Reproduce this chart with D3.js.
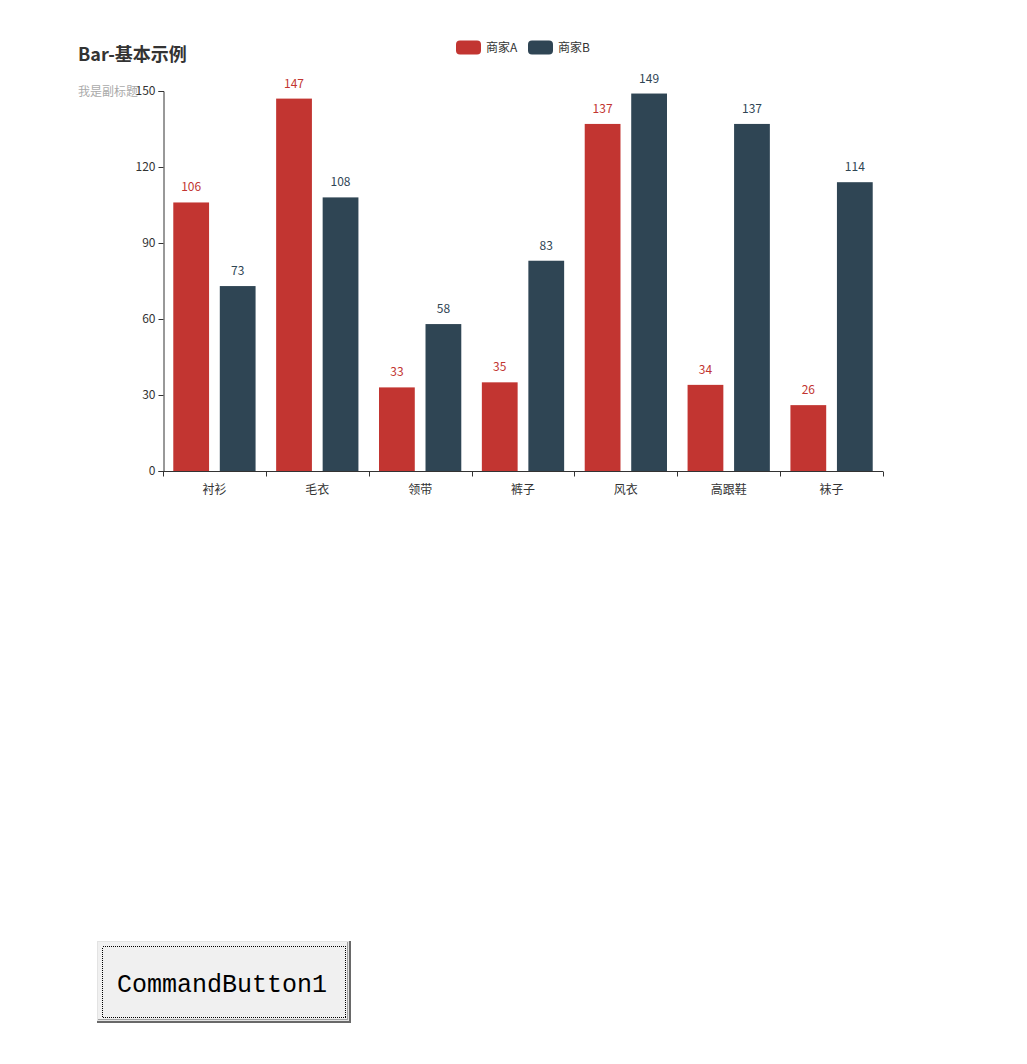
<!DOCTYPE html>
<html><head><meta charset="utf-8">
<script src="https://cdn.jsdelivr.net/npm/d3@7"></script>
<style>
body{margin:0;background:#fff;}
svg{display:block;}
</style></head>
<body>
<svg id="chart" width="1027" height="1064"></svg>
<script>
const categories = ["衬衫","毛衣","领带","裤子","风衣","高跟鞋","袜子"];
const seriesNames = ["商家A","商家B"];
const valuesA = [106,147,33,35,137,34,26];
const valuesB = [73,108,58,83,149,137,114];
const yTicks = [0,30,60,90,120,150];
const colors = ["#c23531","#2f4554"];
const titleText = "Bar-基本示例";
const subtitleText = "我是副标题";
const buttonText = "CommandButton1";

(function(){
const font = "'Noto Sans CJK SC','Microsoft YaHei',sans-serif";
const svg = d3.select("#chart");
const pL = 163, pR = 883, pT = 91, pB = 471;

const x = d3.scaleBand().domain(categories).range([pL, pR]).paddingInner(0).paddingOuter(0);
const y = d3.scaleLinear().domain([0,150]).range([pB, pT]);

// title
svg.append("text").attr("x",78).attr("y",61).attr("font-family",font).attr("font-size",18)
  .attr("font-weight","bold").attr("fill","#333").text(titleText);
svg.append("text").attr("x",78).attr("y",96).attr("font-family",font).attr("font-size",12)
  .attr("fill","#aaa").text(subtitleText);

// legend
const legendX = [456, 528];
seriesNames.forEach((n,i)=>{
  svg.append("rect").attr("x",legendX[i]).attr("y",40.5).attr("width",25).attr("height",14)
    .attr("rx",4).attr("fill",colors[i]);
  svg.append("text").attr("x",legendX[i]+30).attr("y",52).attr("font-family",font)
    .attr("font-size",12).attr("fill","#333").text(n);
});

// bars
const bw = x.bandwidth();
const gapCat = bw*0.2/2;
const barW = (bw*0.8)/2.3;
const barGap = barW*0.3;
const data = [valuesA, valuesB];
data.forEach((vals,si)=>{
  const g = svg.append("g");
  categories.forEach((c,ci)=>{
    const bx = x(c)+gapCat + si*(barW+barGap);
    const v = vals[ci];
    g.append("rect").attr("x",bx).attr("y",y(v)).attr("width",barW).attr("height",pB-y(v))
      .attr("fill",colors[si]);
    g.append("text").attr("x",bx+barW/2).attr("y",y(v)-11).attr("text-anchor","middle")
      .attr("font-family",font).attr("font-size",12).attr("fill",colors[si]).text(v);
  });
});

// y axis
const yAxis = d3.axisLeft(y).tickValues(yTicks).tickSize(5).tickPadding(3);
const gy = svg.append("g").attr("transform",`translate(${pL+0.5},0)`).call(yAxis);
gy.select(".domain").attr("stroke","#333");
gy.selectAll(".tick line").attr("stroke","#333");
gy.selectAll(".tick text").attr("font-family",font).attr("font-size",12).attr("fill","#333");

// x axis
const xAxis = d3.axisBottom(x).tickSize(0).tickPadding(14);
const gx = svg.append("g").attr("transform",`translate(0,${pB+0.5})`).call(xAxis);
gx.select(".domain").attr("stroke","#333").attr("d",`M${pL},0H${pR}`);
gx.selectAll(".tick text").attr("font-family",font).attr("font-size",12).attr("fill","#333");
const boundaries = categories.map(c=>x(c)).concat([pR]);
gx.selectAll(".bnd").data(boundaries).enter().append("line")
  .attr("x1",d=>Math.round(d)+0.5).attr("x2",d=>Math.round(d)+0.5).attr("y1",0).attr("y2",5).attr("stroke","#333");

// command button
const b = svg.append("g");
b.append("rect").attr("x",97).attr("y",941).attr("width",254).attr("height",82).attr("fill","#696969");
b.append("rect").attr("x",97).attr("y",941).attr("width",252).attr("height",80).attr("fill","#e3e3e3");
b.append("rect").attr("x",98).attr("y",942).attr("width",250).attr("height",78).attr("fill","#a0a0a0");
b.append("rect").attr("x",98).attr("y",942).attr("width",249).attr("height",77).attr("fill","#f0f0f0");
b.append("rect").attr("x",102.5).attr("y",946.5).attr("width",243).attr("height",71)
  .attr("fill","none").attr("stroke","#000").attr("stroke-width",1).attr("stroke-dasharray","1,1")
  .attr("shape-rendering","crispEdges");
b.append("text").attr("x",222).attr("y",992).attr("text-anchor","middle")
  .attr("font-family","'Liberation Mono','DejaVu Sans Mono',monospace").attr("font-size",25)
  .attr("fill","#000").text(buttonText);
})();
</script>
</body></html>
